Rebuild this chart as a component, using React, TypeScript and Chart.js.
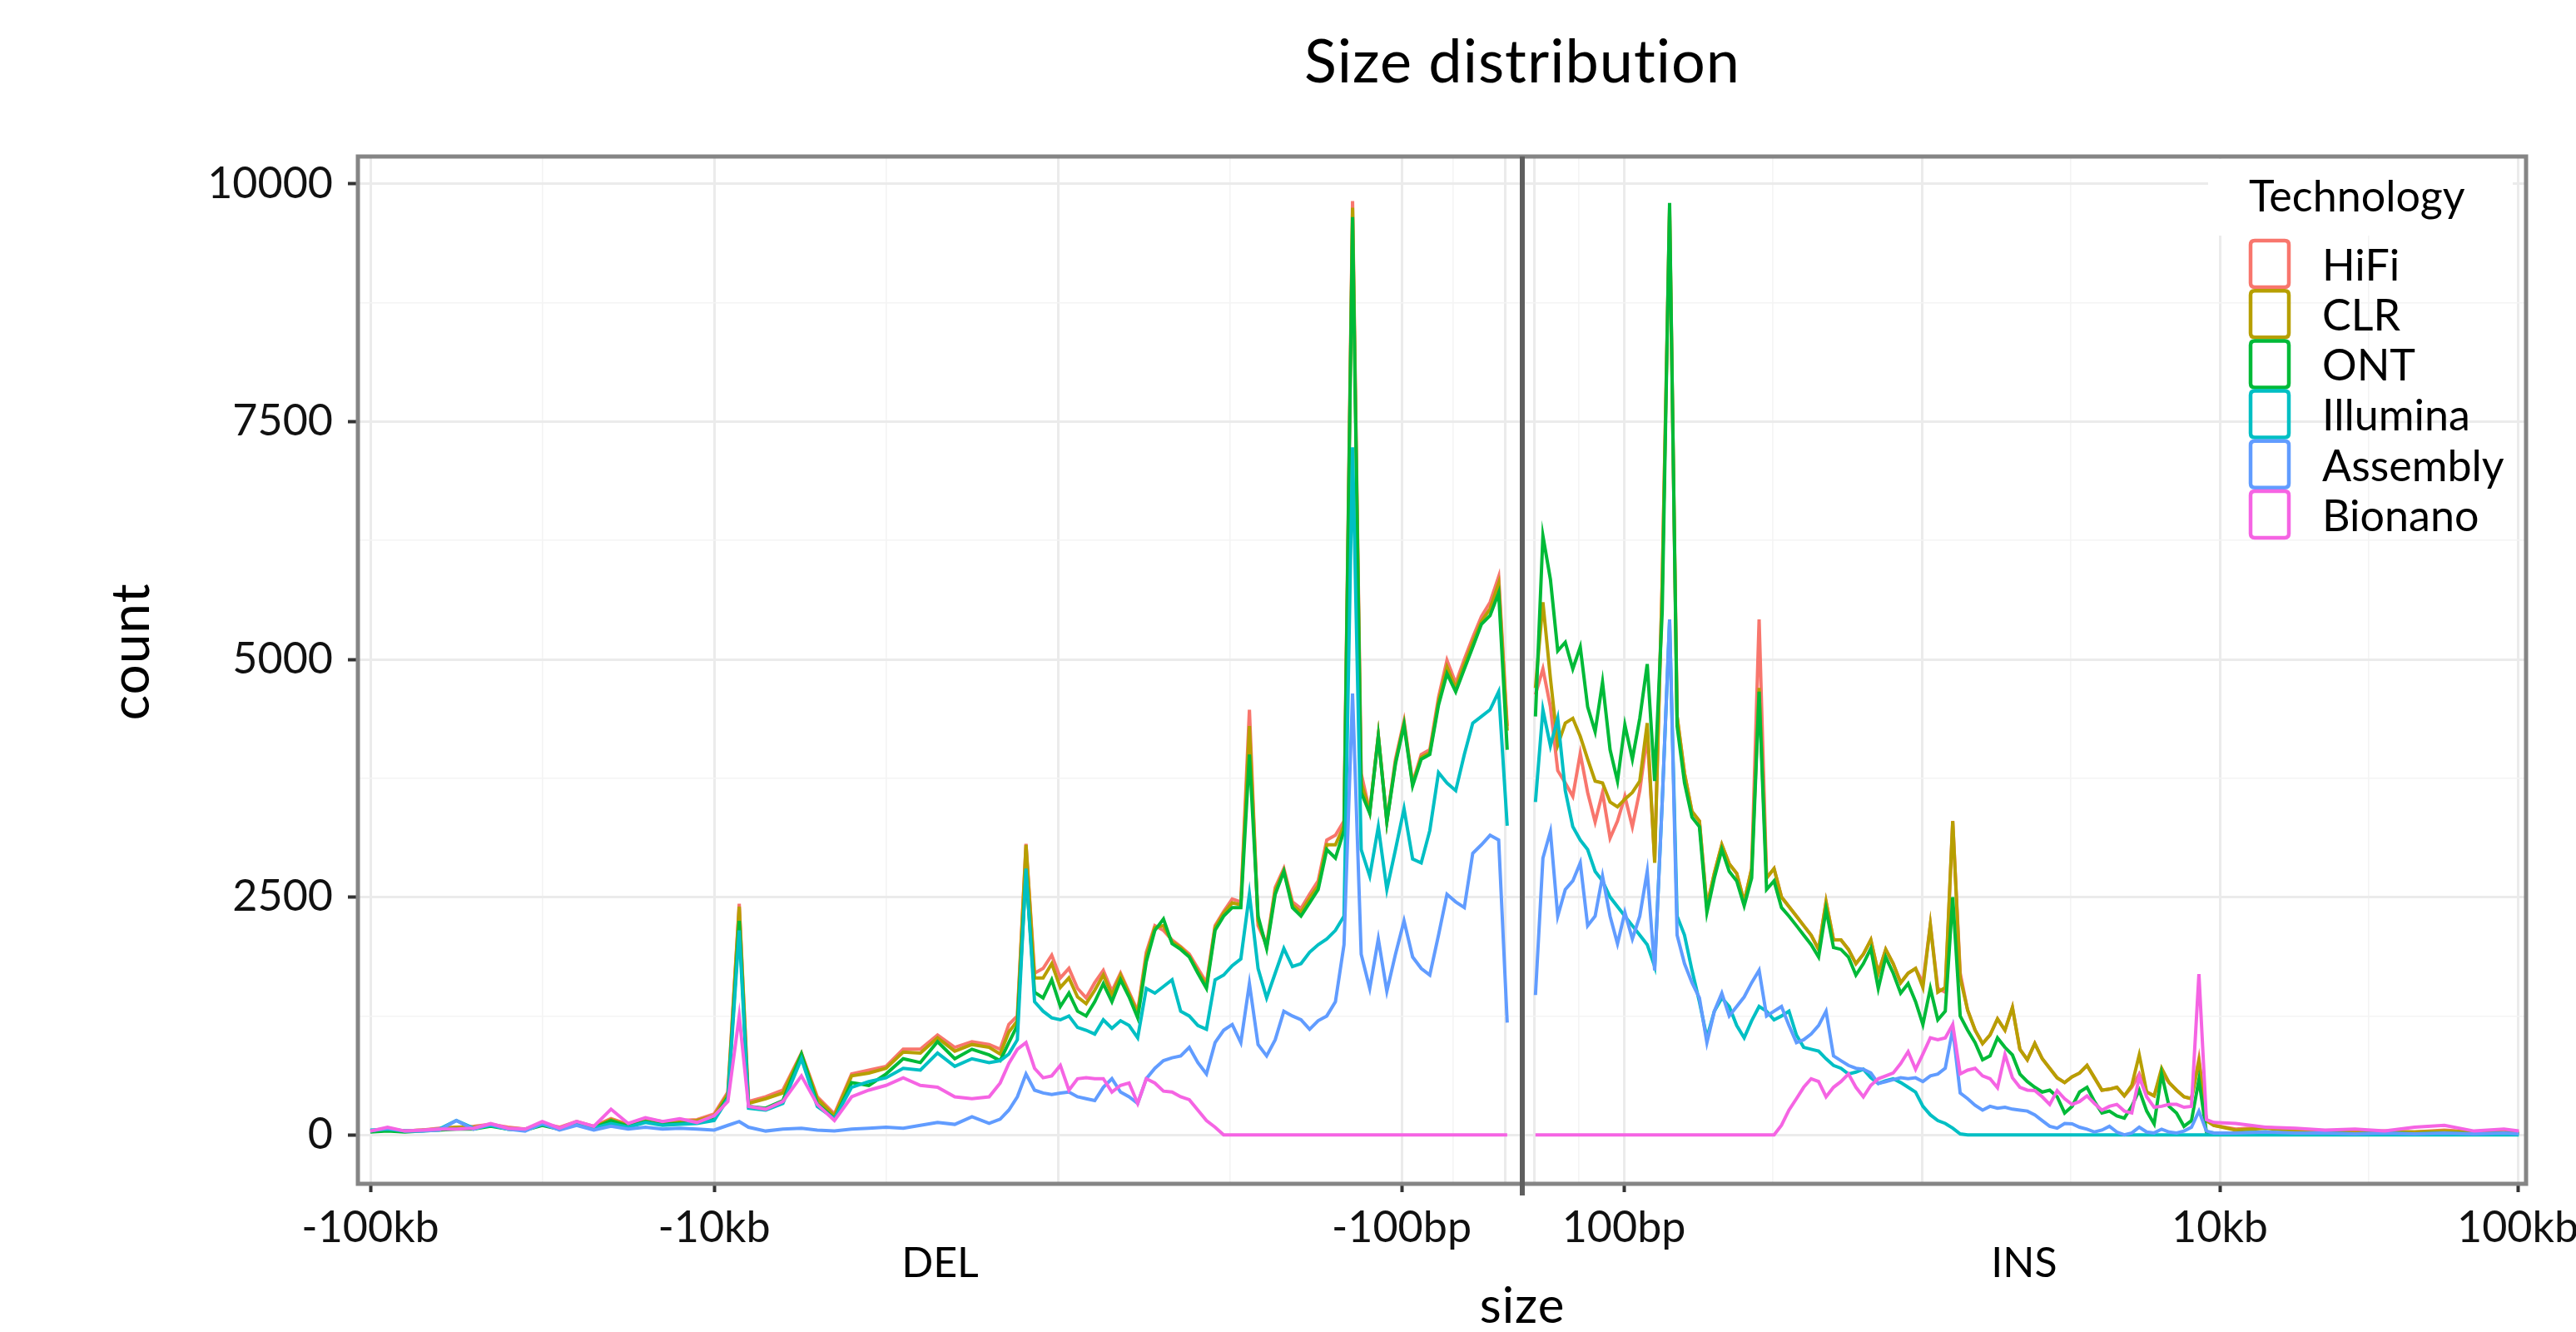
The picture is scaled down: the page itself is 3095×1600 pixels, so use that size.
import React, { useEffect, useRef } from 'react';
import { Chart, registerables } from 'chart.js';

Chart.register(...registerables);

const FONT = 'Lato, "Open Sans", "DejaVu Sans", sans-serif';

const TITLE = 'Size distribution';
const X_TITLE = 'size';
const Y_TITLE = 'count';
const LEGEND_TITLE = 'Technology';

const TECHNOLOGIES = ['HiFi', 'CLR', 'ONT', 'Illumina', 'Assembly', 'Bionano'];
const COLORS = ['#F8766D', '#B79F00', '#00BA38', '#00BFC4', '#619CFF', '#F564E3'];

// ---------- Deletions: absolute SV size in bp (left panel, reversed log axis) ----------
const DEL_SIZES = [
  100000, 89125, 79433, 70795, 63096, 56234, 50119, 44668, 39811, 35481,
  31623, 28184, 25119, 22387, 19953, 17783, 15849, 14125, 12589, 11220,
  10000, 9120, 8453, 7943, 7079, 6310, 5572, 5012, 4467, 3981,
  3548, 3162, 2818, 2512, 2239, 1995, 1778, 1585,
  1472, 1389, 1312, 1238, 1169, 1104, 1042, 983.5, 928.6, 876.6,
  827.6, 781.2, 737.6, 696.3, 657.3, 620.6, 585.9, 553.1, 522.2, 493.0,
  465.4, 439.3, 414.7, 391.5, 369.6, 348.9, 329.4, 311.0, 293.6, 277.2,
  261.6, 247.0, 233.2, 220.1, 207.8, 196.2, 185.2, 174.9, 165.1, 155.8,
  147.1, 138.9, 131.1, 123.8, 116.9, 110.4, 104.2, 98.4, 92.9, 87.7,
  82.8, 78.1, 73.8, 69.6, 65.7, 62.1, 58.6, 55.3, 52.2, 49.3,
];
const DEL_HIFI = [
  40, 50, 40, 50, 70, 80, 90, 110, 80, 60,
  120, 80, 140, 90, 170, 110, 170, 140, 150, 160,
  220, 450, 2430, 350, 400, 470, 860, 400, 220, 640,
  680, 720, 900, 900, 1050, 920, 980, 950,
  900, 1160, 1250, 3060, 1700, 1750, 1890, 1650, 1750, 1540,
  1440, 1600, 1730, 1510, 1700, 1500, 1300, 1920, 2200, 2150,
  2050, 1980, 1900, 1750, 1600, 2200, 2350, 2480, 2450, 4470,
  2200, 2000, 2600, 2800, 2450, 2380, 2530, 2670, 3100, 3150,
  3300, 9820, 3800, 3400, 4200, 3300, 3950, 4350, 3700, 4000,
  4050, 4600, 4990, 4750, 5000, 5230, 5450, 5600, 5870, 4300,
];
const DEL_CLR = [
  40, 50, 40, 50, 60, 80, 80, 100, 70, 60,
  110, 70, 130, 80, 160, 100, 160, 130, 140, 150,
  200, 430, 2400, 330, 380, 440, 850, 380, 200, 620,
  650, 700, 870, 860, 1020, 880, 950, 920,
  850, 1080, 1200, 3050, 1650, 1650, 1800, 1550, 1650, 1450,
  1380, 1520, 1680, 1470, 1680, 1480, 1280, 1880, 2180, 2200,
  2030, 1970, 1880, 1720, 1570, 2180, 2330, 2440, 2420, 4300,
  2250, 1980, 2570, 2780, 2420, 2340, 2490, 2620, 3050, 3050,
  3250, 9750, 3700, 3400, 4200, 3300, 3920, 4330, 3690, 3970,
  4020, 4560, 4920, 4700, 4950, 5180, 5400, 5530, 5800, 4250,
];
const DEL_ONT = [
  30, 40, 30, 40, 50, 60, 60, 90, 60, 50,
  100, 60, 120, 70, 150, 90, 140, 110, 120, 130,
  170, 400, 2250, 300, 280, 360, 850, 330, 170, 550,
  520, 640, 800, 760, 980, 800, 900, 840,
  780, 970, 1150, 2770, 1500, 1440, 1630, 1350, 1490, 1300,
  1250, 1400, 1590, 1400, 1630, 1450, 1230, 1820, 2150, 2270,
  2010, 1950, 1870, 1700, 1540, 2150, 2300, 2390, 2390, 4000,
  2300, 1960, 2530, 2770, 2390, 2300, 2440, 2580, 3000, 2910,
  3200, 9650, 3600, 3380, 4190, 3290, 3900, 4310, 3670, 3950,
  4000, 4520, 4850, 4660, 4900, 5130, 5370, 5460, 5700, 4050,
];
const DEL_ILLUMINA = [
  50, 60, 40, 40, 60, 150, 70, 100, 60, 50,
  110, 60, 110, 70, 120, 80, 130, 100, 110, 120,
  150, 380, 2150, 280, 260, 330, 800, 300, 170, 500,
  560, 600, 700, 680, 860, 720, 800, 760,
  780, 850, 1000, 2800, 1400, 1300, 1230, 1210, 1250, 1130,
  1100, 1060, 1210, 1120, 1200, 1150, 1020, 1540, 1490, 1560,
  1630, 1300, 1250, 1150, 1110, 1630, 1680, 1780, 1850, 2530,
  1750, 1440, 1700, 1960, 1770, 1800, 1920, 2000, 2060, 2150,
  2300, 7230, 3000, 2720, 3240, 2580, 3000, 3430, 2900, 2860,
  3200, 3810, 3700, 3620, 4000, 4330, 4400, 4470, 4660, 3250,
];
const DEL_ASSEMBLY = [
  40, 70, 40, 40, 50, 150, 60, 110, 60, 40,
  120, 50, 100, 50, 90, 60, 80, 60, 70, 60,
  50, 100, 140, 80, 40, 60, 70, 50, 40, 60,
  70, 80, 70, 100, 130, 110, 190, 120,
  165, 260, 400, 640, 470, 440, 425, 440, 450, 400,
  380, 360, 500, 590, 450, 400, 330, 590, 700, 780,
  810, 830, 920, 760, 640, 970, 1100, 1160, 970, 1590,
  950, 830, 1000, 1300, 1250, 1210, 1110, 1200, 1250, 1400,
  2000, 4640, 1900, 1540, 2060, 1510, 1900, 2250, 1870, 1750,
  1680, 2100, 2530, 2450, 2390, 2960, 3050, 3150, 3100, 1180,
];
const DEL_BIONANO = [
  40, 80, 40, 50, 60, 60, 70, 120, 70, 60,
  140, 70, 140, 90, 270, 120, 180, 140, 170, 130,
  200, 350, 1250, 300, 270, 350, 620, 320, 150, 400,
  470, 520, 600, 520, 500, 400, 380, 400,
  545, 750, 900, 970, 700, 600, 620, 730, 470, 590,
  600, 590, 590, 450, 520, 545, 330, 590, 545, 460,
  450, 400, 370, 260, 150, 80, 0, 0, 0, 0,
  0, 0, 0, 0, 0, 0, 0, 0, 0, 0,
  0, 0, 0, 0, 0, 0, 0, 0, 0, 0,
  0, 0, 0, 0, 0, 0, 0, 0, 0, 0,
];

// ---------- Insertions: SV size in bp (right panel, log axis) ----------
const INS_SIZES = [
  50.5, 53.5, 56.7, 60.0, 63.6, 67.4, 71.4, 75.6, 80.1, 84.8,
  89.9, 95.2, 100.8, 106.8, 113.1, 119.8, 126.9, 134.5, 142.4, 150.9,
  159.8, 169.3, 179.3, 190.0, 201.2, 213.2, 225.8, 239.2, 253.4, 268.5,
  284.4, 301.3, 319.2, 338.1, 358.2, 379.5, 401.4, 425.2, 450.4, 477.1,
  505.4, 535.4, 567.2, 600.9, 636.5, 674.3, 714.3, 756.7, 801.6, 849.2,
  899.6, 953.0, 1008.3, 1068.1, 1131.5, 1198.7, 1269.8, 1345.2, 1425.0, 1509.6,
  1599.2, 1694.1, 1794.7, 1901.2, 2014.0, 2133.5, 2260.2, 2394.3, 2536.4, 2686.9,
  2846.4, 3015.3, 3194.2, 3383.8, 3584.6, 3797.3, 4022.7, 4261.4, 4514.3, 4782.2,
  5066.0, 5366.7, 5685.2, 6022.6, 6380.0, 6758.6, 7159.7, 7584.6, 8034.7, 8511.5,
  9016.6, 9551.7,
  11312, 14238, 17934, 22577, 28423, 35782, 45046, 56709, 71392, 89877, 100833,
];
const INS_HIFI = [
  4630, 4900, 4500, 3830, 3700, 3560, 4010, 3600, 3290, 3600,
  3120, 3300, 3560, 3240, 3620, 4200, 2900, 5800, 9700, 4400,
  3800, 3400, 3300, 2400, 2750, 3050, 2850, 2750, 2450, 2800,
  5420, 2700, 2800, 2500, 2400, 2300, 2200, 2100, 1950, 2450,
  2050, 2050, 1950, 1800, 1900, 2050, 1700, 1950, 1800, 1600,
  1700, 1750, 1600, 2210, 1540, 1500, 3300, 1700, 1310, 1100,
  960, 1050, 1220, 1100, 1340, 900, 790, 960, 800, 700,
  600, 550, 610, 650, 730, 600, 470, 480, 500, 410,
  500, 640, 450, 410, 650, 550, 470, 400, 380, 800,
  150, 100,
  60, 80, 50, 40, 30, 40, 30, 50, 30, 40, 30,
];
const INS_CLR = [
  4700, 5600, 4800, 4100, 4330, 4380, 4190, 3950, 3720, 3700,
  3500, 3450, 3530, 3600, 3720, 4330, 2860, 5800, 9750, 4400,
  3800, 3400, 3300, 2400, 2750, 3050, 2850, 2750, 2450, 2800,
  4700, 2700, 2800, 2500, 2400, 2300, 2200, 2100, 1950, 2450,
  2050, 2050, 1950, 1800, 1900, 2050, 1700, 1950, 1800, 1600,
  1700, 1750, 1550, 2210, 1500, 1550, 3300, 1650, 1310, 1100,
  960, 1050, 1220, 1100, 1340, 900, 790, 960, 800, 700,
  600, 550, 610, 650, 730, 600, 470, 480, 500, 410,
  520, 840, 450, 410, 700, 550, 470, 400, 380, 770,
  150, 100,
  50, 70, 40, 40, 30, 30, 30, 40, 30, 30, 20,
];
const INS_ONT = [
  4400, 6300, 5840, 5090, 5180, 4900, 5130, 4500, 4240, 4760,
  4050, 3720, 4310, 3950, 4380, 4950, 3720, 5500, 9800, 4300,
  3700, 3340, 3240, 2340, 2700, 3000, 2770, 2670, 2410, 2700,
  4660, 2580, 2670, 2390, 2300, 2200, 2100, 2000, 1870, 2370,
  1970, 1950, 1870, 1680, 1800, 1960, 1540, 1870, 1700, 1490,
  1590, 1400, 1160, 1540, 1210, 1300, 2500, 1250, 1100, 970,
  790, 830, 1020, 920, 840, 640, 560, 500, 450, 470,
  400, 230, 300, 450, 500, 350, 230, 250, 200, 175,
  300, 470, 250, 115, 640, 300, 230, 90, 150, 580,
  30, 20,
  20, 30, 10, 20, 10, 20, 10, 20, 10, 20, 10,
];
const INS_ILLUMINA = [
  3500, 4470, 4090, 4380, 3620, 3240, 3100, 3000, 2770, 2670,
  2500, 2400, 2300, 2200, 2100, 2000, 1770, 3500, 5400, 2300,
  2100, 1730, 1400, 1020, 1300, 1440, 1350, 1150, 1020, 1200,
  1350, 1300, 1210, 1250, 1300, 1050, 920, 900, 880, 800,
  730, 700, 640, 660, 690, 600, 540, 570, 590, 550,
  500, 450, 300, 210, 150, 120, 70, 10, 0, 0,
  0, 0, 0, 0, 0, 0, 0, 0, 0, 0,
  0, 0, 0, 0, 0, 0, 0, 0, 0, 0,
  0, 0, 0, 0, 0, 0, 0, 0, 0, 0,
  0, 0,
  0, 0, 0, 0, 0, 0, 0, 0, 0, 0, 0,
];
const INS_ASSEMBLY = [
  1470, 2910, 3190, 2300, 2580, 2670, 2860, 2200, 2300, 2720,
  2300, 2010, 2340, 2060, 2300, 2770, 1730, 3500, 5420, 2100,
  1800, 1600, 1440, 970, 1300, 1490, 1250, 1350, 1450, 1600,
  1730, 1250, 1300, 1350, 1150, 970, 1000, 1060, 1150, 1300,
  830, 780, 730, 700, 690, 650, 540, 560, 580, 600,
  590, 600, 560, 620, 640, 700, 1110, 440, 380, 310,
  260, 300, 280, 290, 270, 260, 250, 210, 150, 90,
  70, 120, 115, 80, 60, 30, 50, 90, 30, 0,
  20, 80, 30, 20, 60, 30, 20, 40, 80, 250,
  40, 20,
  20, 30, 20, 20, 10, 20, 10, 20, 10, 20, 10,
];
const INS_BIONANO = [
  0, 0, 0, 0, 0, 0, 0, 0, 0, 0,
  0, 0, 0, 0, 0, 0, 0, 0, 0, 0,
  0, 0, 0, 0, 0, 0, 0, 0, 0, 0,
  0, 0, 0, 100, 260, 380, 500, 590, 560, 400,
  500, 560, 640, 500, 400, 520, 590, 620, 650, 750,
  875, 690, 850, 1020, 1000, 1020, 1160, 640, 680, 700,
  620, 590, 495, 845, 600, 500, 470, 465, 400, 320,
  465, 380, 320, 350, 410, 330, 260, 300, 320, 250,
  230, 610, 400, 290, 300, 320, 320, 290, 300, 1690,
  160, 130,
  120, 80, 70, 50, 60, 40, 80, 100, 40, 60, 40,
];

const DEL_SERIES = [DEL_HIFI, DEL_CLR, DEL_ONT, DEL_ILLUMINA, DEL_ASSEMBLY, DEL_BIONANO];
const INS_SERIES = [INS_HIFI, INS_CLR, INS_ONT, INS_ILLUMINA, INS_ASSEMBLY, INS_BIONANO];

// ---------- Axis ticks / grid breaks ----------
const Y_TICKS = [0, 1250, 2500, 3750, 5000, 6250, 7500, 8750, 10000];
const Y_TICK_LABELS = ['0', '', '2500', '', '5000', '', '7500', '', '10000'];
const DEL_TICKS = [50, 70.71, 100, 316.23, 1000, 3162.3, 10000, 31623, 100000];
const DEL_TICK_LABELS = ['', '', '-100bp', '', '', '', '-10kb', '', '-100kb'];
const INS_TICKS = [50, 70.71, 100, 316.23, 1000, 3162.3, 10000, 31623, 100000];
const INS_TICK_LABELS = ['', '', '100bp', '', '', '', '10kb', '', '100kb'];
const X_TICK_MAJOR = [true, false, true, false, true, false, true, false, true];

// ---------- Axis ranges ----------
const Y_MIN = -515;
const Y_MAX = 10288;
const DEL_MIN = 44.56;
const DEL_MAX = 108730;
const INS_MIN = 45.62;
const INS_MAX = 106640;

function roundRect(ctx: CanvasRenderingContext2D, x: number, y: number, w: number, h: number, r: number) {
  ctx.beginPath();
  ctx.moveTo(x + r, y);
  ctx.lineTo(x + w - r, y);
  ctx.quadraticCurveTo(x + w, y, x + w, y + r);
  ctx.lineTo(x + w, y + h - r);
  ctx.quadraticCurveTo(x + w, y + h, x + w - r, y + h);
  ctx.lineTo(x + r, y + h);
  ctx.quadraticCurveTo(x, y + h, x, y + h - r);
  ctx.lineTo(x, y + r);
  ctx.quadraticCurveTo(x, y, x + r, y);
  ctx.closePath();
}

const decorPlugin = {
  id: 'decor',
  afterDraw(chart: any) {
    const { ctx, chartArea: a, scales } = chart;
    const mid = scales.xIns.left;
    ctx.save();
    // panel frame
    ctx.strokeStyle = '#858585';
    ctx.lineWidth = 5;
    ctx.strokeRect(a.left, a.top, a.right - a.left, a.bottom - a.top);
    // DEL / INS separator
    ctx.strokeStyle = '#5f5f5f';
    ctx.lineWidth = 6;
    ctx.beginPath();
    ctx.moveTo(mid, a.top);
    ctx.lineTo(mid, a.bottom + 14);
    ctx.stroke();

    // titles
    ctx.fillStyle = '#000';
    ctx.textAlign = 'center';
    ctx.textBaseline = 'middle';
    try { (ctx as any).letterSpacing = '1px'; } catch (e) { /* ignore */ }
    ctx.font = `72px ${FONT}`;
    ctx.fillText(TITLE, mid, 76);
    ctx.font = `60px ${FONT}`;
    ctx.fillText(X_TITLE, mid, chart.height - 30);
    // y axis title
    ctx.save();
    ctx.translate(158, (a.top + a.bottom) / 2 - 22);
    ctx.rotate(-Math.PI / 2);
    ctx.font = `64px ${FONT}`;
    ctx.fillText(Y_TITLE, 0, 0);
    ctx.restore();
    try { (ctx as any).letterSpacing = '0px'; } catch (e) { /* ignore */ }

    // legend (inside panel, top right)
    const lx = a.right - 331;
    ctx.fillStyle = '#ffffff';
    ctx.fillRect(a.right - 382, a.top + 3, 366, 92);
    ctx.fillStyle = '#000';
    ctx.textAlign = 'left';
    ctx.textBaseline = 'alphabetic';
    ctx.font = `52px ${FONT}`;
    ctx.fillText(LEGEND_TITLE, lx - 2, 254);
    ctx.textBaseline = 'middle';
    TECHNOLOGIES.forEach((t, i) => {
      const top = 289 + i * 60.2;
      ctx.strokeStyle = COLORS[i];
      ctx.lineWidth = 4.5;
      roundRect(ctx, lx, top, 46, 56, 5);
      ctx.stroke();
      ctx.fillStyle = '#000';
      ctx.fillText(t, lx + 86, top + 31);
    });
    ctx.restore();
  },
};

export default function App() {
  const ref = useRef<HTMLCanvasElement>(null);

  useEffect(() => {
    const canvas = ref.current;
    if (!canvas) return;

    const datasets: any[] = [];
    TECHNOLOGIES.forEach((tech, i) => {
      const common = {
        label: tech,
        borderColor: COLORS[i],
        backgroundColor: COLORS[i],
        borderWidth: 4,
        pointRadius: 0,
        pointHoverRadius: 0,
        tension: 0,
        fill: false,
        yAxisID: 'y',
        order: 5 - i,
      };
      datasets.push({
        ...common,
        xAxisID: 'xDel',
        data: DEL_SIZES.map((s, j) => ({ x: s, y: DEL_SERIES[i][j] })),
      });
      datasets.push({
        ...common,
        xAxisID: 'xIns',
        data: INS_SIZES.map((s, j) => ({ x: s, y: INS_SERIES[i][j] })),
      });
    });

    const tickFont = { family: FONT, size: 52 };

    const xAxis = (ticksArr: number[], labels: string[], min: number, max: number, reverse: boolean, weight: number, title: string) => {
      const major = (v: number) => X_TICK_MAJOR[ticksArr.indexOf(v)];
      return {
        type: 'logarithmic',
        position: 'bottom',
        stack: 'x',
        stackWeight: weight,
        reverse,
        min,
        max,
        afterBuildTicks: (s: any) => {
          s.ticks = ticksArr.map((v) => ({ value: v }));
        },
        afterFit: (s: any) => {
          s.height = 178;
          s.paddingLeft = 0;
          s.paddingRight = 0;
        },
        ticks: {
          autoSkip: false,
          maxRotation: 0,
          minRotation: 0,
          padding: 12,
          color: '#111',
          font: tickFont,
          callback: (v: number) => {
            const k = ticksArr.indexOf(v);
            return k >= 0 ? labels[k] : '';
          },
        },
        grid: {
          color: (ctx: any) => (major(ctx.tick.value) ? '#EBEBEB' : '#F4F4F4'),
          lineWidth: (ctx: any) => (major(ctx.tick.value) ? 3 : 1.6),
          tickLength: 10,
          tickWidth: 4,
          tickColor: (ctx: any) => {
            const k = ticksArr.indexOf(ctx.tick.value);
            return k >= 0 && labels[k] ? '#333' : 'rgba(0,0,0,0)';
          },
        },
        border: { display: false },
        title: {
          display: true,
          text: title,
          color: '#000',
          font: { family: FONT, size: 50 },
          padding: { top: 0, bottom: 52 },
        },
      };
    };

    const chart = new Chart(canvas, {
      type: 'line',
      data: { datasets },
      plugins: [decorPlugin],
      options: {
        animation: false,
        responsive: true,
        maintainAspectRatio: false,
        layout: { padding: { top: 188, right: 60, bottom: 0, left: 0 } },
        plugins: {
          legend: { display: false },
          title: { display: false },
          tooltip: { enabled: false },
        },
        scales: {
          xDel: xAxis(DEL_TICKS, DEL_TICK_LABELS, DEL_MIN, DEL_MAX, true, 1399, 'DEL') as any,
          xIns: xAxis(INS_TICKS, INS_TICK_LABELS, INS_MIN, INS_MAX, false, 1206, 'INS') as any,
          y: {
            type: 'linear',
            position: 'left',
            min: Y_MIN,
            max: Y_MAX,
            afterBuildTicks: (s: any) => {
              s.ticks = Y_TICKS.map((v) => ({ value: v }));
            },
            afterFit: (s: any) => {
              s.width = 430;
              s.paddingTop = 0;
              s.paddingBottom = 0;
            },
            ticks: {
              padding: 18,
              color: '#111',
              font: tickFont,
              callback: (v: number) => {
                const k = Y_TICKS.indexOf(v);
                return k >= 0 ? Y_TICK_LABELS[k] : '';
              },
            },
            grid: {
              color: (ctx: any) => (Y_TICK_LABELS[Y_TICKS.indexOf(ctx.tick.value)] ? '#EBEBEB' : '#F4F4F4'),
              lineWidth: (ctx: any) => (Y_TICK_LABELS[Y_TICKS.indexOf(ctx.tick.value)] ? 3 : 1.6),
              tickLength: 12,
              tickWidth: 4,
              tickColor: (ctx: any) => (Y_TICK_LABELS[Y_TICKS.indexOf(ctx.tick.value)] ? '#333' : 'rgba(0,0,0,0)'),
            },
            border: { display: false },
            title: { display: false },
          },
        },
      } as any,
    });

    return () => chart.destroy();
  }, []);

  return (
    <div style={{ position: 'absolute', left: 0, top: 0, width: 3095, height: 1600 }}>
      <canvas ref={ref} />
    </div>
  );
}
